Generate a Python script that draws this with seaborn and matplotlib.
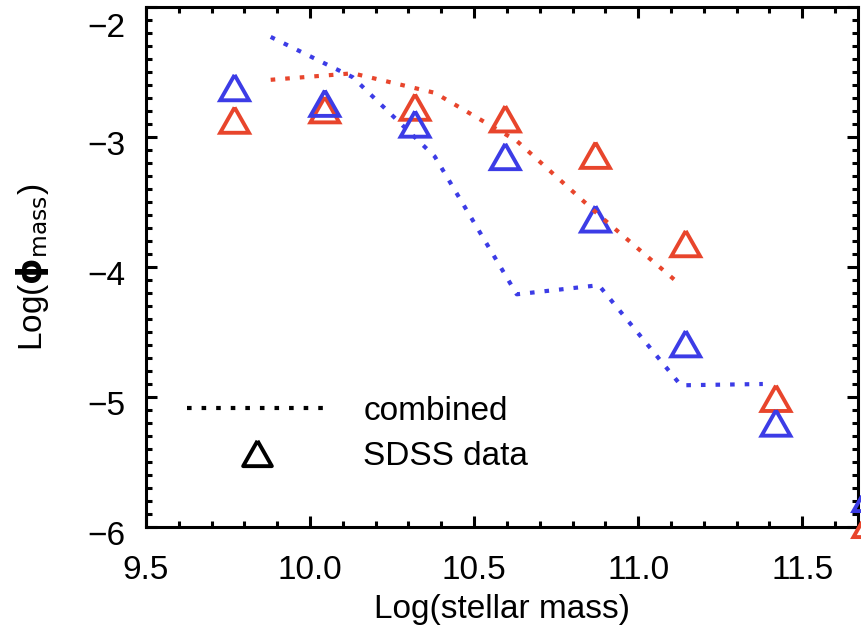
import numpy as np
import pandas as pd
import matplotlib
matplotlib.use("Agg")
import matplotlib.pyplot as plt
import matplotlib.transforms as mtransforms
from matplotlib.lines import Line2D
from matplotlib.ticker import MultipleLocator
import seaborn as sns

# SDSS stellar mass function points (two populations)
sdss_mass = [9.77, 10.045, 10.32, 10.595, 10.87, 11.145, 11.42, 11.70]
sdss_red = [-2.87, -2.79, -2.77, -2.86, -3.14, -3.82, -5.01, -5.98]
sdss_blue = [-2.62, -2.74, -2.90, -3.15, -3.63, -4.59, -5.20, -5.78]

# combined model curves
model_mass_red = [9.88, 10.13, 10.38, 10.63, 10.88, 11.13]
model_red = [-2.56, -2.51, -2.66, -3.03, -3.60, -4.14]
model_mass_blue = [9.88, 10.13, 10.38, 10.63, 10.88, 11.13, 11.38]
model_blue = [-2.23, -2.54, -3.15, -4.21, -4.14, -4.91, -4.90]

x_ticks = [9.5, 10.0, 10.5, 11.0, 11.5]
x_ticklabels = ["9.5", "10.0", "10.5", "11.0", "11.5"]
y_ticks = [-2, -3, -4, -5, -6]
y_ticklabels = ["\u22122", "\u22123", "\u22124", "\u22125", "\u22126"]

RED = "#e8452c"
BLUE = "#3c3ce6"

sns.set_theme(style="ticks")
plt.rcParams["font.family"] = ["Liberation Sans", "DejaVu Sans"]
plt.rcParams["mathtext.fontset"] = "dejavusans"
for key in ["text.color", "axes.labelcolor", "xtick.color", "ytick.color",
            "xtick.labelcolor", "ytick.labelcolor", "axes.edgecolor"]:
    plt.rcParams[key] = "black"

fig = plt.figure(figsize=(8.61, 6.34), dpi=100)
ax = fig.add_axes([146 / 861, 107 / 634, 712 / 861, 520 / 634])

tri = [(0, 0.88), (-1, -0.88), (1, -0.88), (0, 0.88)]
dots = (0, (1.1, 2.4))

for mass, phi, col in [(sdss_mass, sdss_red, RED), (sdss_mass, sdss_blue, BLUE)]:
    df = pd.DataFrame({"mass": mass, "phi": phi})
    sns.scatterplot(data=df, x="mass", y="phi", marker=tri, s=430, ax=ax,
                    color=col, linewidth=2.8, legend=False, zorder=3,
                    clip_on=False)
    coll = ax.collections[-1]
    coll.set_facecolor("none")
    coll.set_edgecolor(col)
    coll.set_joinstyle("miter")

for mass, phi, col in [(model_mass_blue, model_blue, BLUE), (model_mass_red, model_red, RED)]:
    df = pd.DataFrame({"mass": mass, "phi": phi})
    sns.lineplot(data=df, x="mass", y="phi", ax=ax, color=col, lw=3.0,
                 linestyle=dots, sort=False, estimator=None, zorder=4)

ax.set_xlim(9.5, 11.67)
ax.set_ylim(-6, -2)
ax.xaxis.set_minor_locator(MultipleLocator(0.1))
ax.yaxis.set_minor_locator(MultipleLocator(0.1))
ax.set_xticks(x_ticks)
ax.set_xticklabels(x_ticklabels)
ax.set_yticks(y_ticks)
ax.set_yticklabels(y_ticklabels)

ax.tick_params(which="both", direction="in", top=True, right=True,
               color="black", width=2.2)
ax.tick_params(which="major", length=8, labelsize=24)
ax.tick_params(axis="x", which="major", pad=20)
ax.tick_params(axis="y", which="major", pad=15)
ax.tick_params(which="minor", length=4)
for sp in ax.spines.values():
    sp.set_linewidth(2.2)
    sp.set_color("black")

# y tick labels sit slightly below their ticks; the top one stays inside
shift = mtransforms.ScaledTranslation(0, -6 / 100, fig.dpi_scale_trans)
for lab in ax.get_yticklabels():
    lab.set_transform(lab.get_transform() + shift)
ax.get_yticklabels()[0].set_verticalalignment("top")

ax.set_xlabel("Log(stellar mass)", fontsize=24, labelpad=6)
ax.set_ylabel(r"Log($\mathbf{\phi}_{\mathrm{mass}}$)", fontsize=24, labelpad=26)

handles = [
    Line2D([], [], color="black", lw=3.0, linestyle=dots),
    Line2D([], [], color="black", lw=0, marker=tri, markersize=20.7,
           markerfacecolor="none", markeredgecolor="black", markeredgewidth=2.8),
]
ax.legend(handles, ["combined", "SDSS data"], loc="upper left",
          bbox_to_anchor=(0.057, 0.252), frameon=False, fontsize=24,
          handlelength=4.2, handletextpad=1.1, labelspacing=0.42,
          borderpad=0, borderaxespad=0)

fig.savefig("out.png", dpi=100)
